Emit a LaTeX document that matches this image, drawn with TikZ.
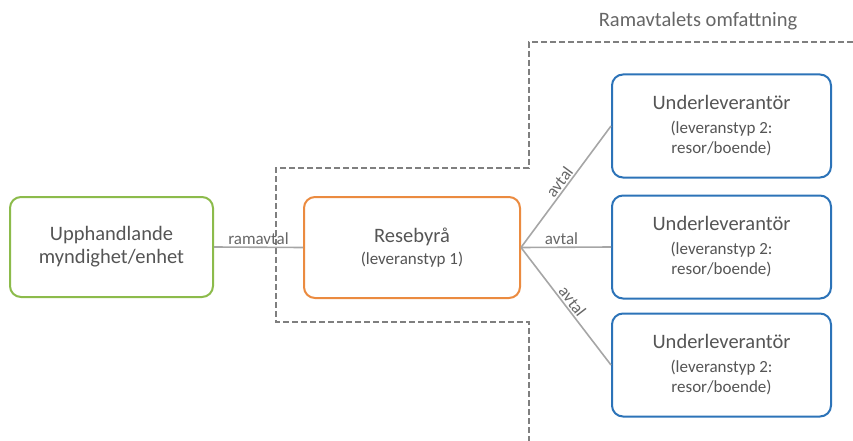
\documentclass[tikz,border=0pt]{standalone}
\usepackage{fontspec}
\setmainfont{Carlito}
\definecolor{txt}{HTML}{555555}
\definecolor{lbl}{HTML}{666666}
\definecolor{gline}{HTML}{A6A6A6}
\definecolor{dashgray}{HTML}{7F7F7F}
\definecolor{cgreen}{HTML}{8CBB4B}
\definecolor{corange}{HTML}{EB8B40}
\definecolor{cblue}{HTML}{2C73B8}
\newcommand{\bigf}{\fontsize{20.5}{24}\selectfont}
\newcommand{\smallf}{\fontsize{17}{20.5}\selectfont}
\begin{document}
\begin{tikzpicture}[x=1pt,y=-1pt,
  box/.style={draw, line width=2pt, rounded corners=11pt, fill=white, text=txt, align=center, inner sep=0pt},
  subbox/.style={box, draw=cblue, minimum width=219pt, minimum height=103pt, font=\smallf},
  conn/.style={draw=gline, line width=1.6pt},
  lab/.style={text=lbl, font=\fontsize{17}{19}\selectfont, inner sep=1.5pt},
]
\useasboundingbox (0,0) rectangle (853,441);
\draw[draw=dashgray, line width=2.4pt, dash pattern=on 6pt off 3pt]
  (853,42) -- (529,42) -- (529,168) -- (276,168) -- (276,322) -- (529,322) -- (529,441);
\node[text=lbl, font=\fontsize{20.5}{24}\selectfont] (title) at (698,21) {Ramavtalets omfattning};

\node[box, draw=cgreen, minimum width=203pt, minimum height=100pt, font=\fontsize{20.5}{23}\selectfont] (ua) at (111.5,247) {Upphandlande\\myndighet/enhet};
\node[box, draw=corange, minimum width=216pt, minimum height=101pt, font=\smallf] (rb) at (412,247.5)
  {{\bigf Resebyrå}\\[1pt](leveranstyp 1)};
\node[subbox] (u1) at (721.5,126) {{\bigf Underleverantör}\\[3pt](leveranstyp 2:\\resor/boende)};
\node[subbox] (u2) at (721.5,247) {{\bigf Underleverantör}\\[3pt](leveranstyp 2:\\resor/boende)};
\node[subbox] (u3) at (721.5,365) {{\bigf Underleverantör}\\[3pt](leveranstyp 2:\\resor/boende)};
\draw[conn] (ua.east) -- node[lab, above, pos=0.5] {ramavtal} (rb.west);
\coordinate (hub) at (rb.east);
\draw[conn] (hub) -- node[lab, sloped, above, pos=0.5] {avtal} (u1.west);
\draw[conn] (hub) -- node[lab, above, pos=0.45] {avtal} (u2.west);
\draw[conn] (hub) -- node[lab, sloped, above, pos=0.5] {avtal} (u3.west);
\end{tikzpicture}
\end{document}
